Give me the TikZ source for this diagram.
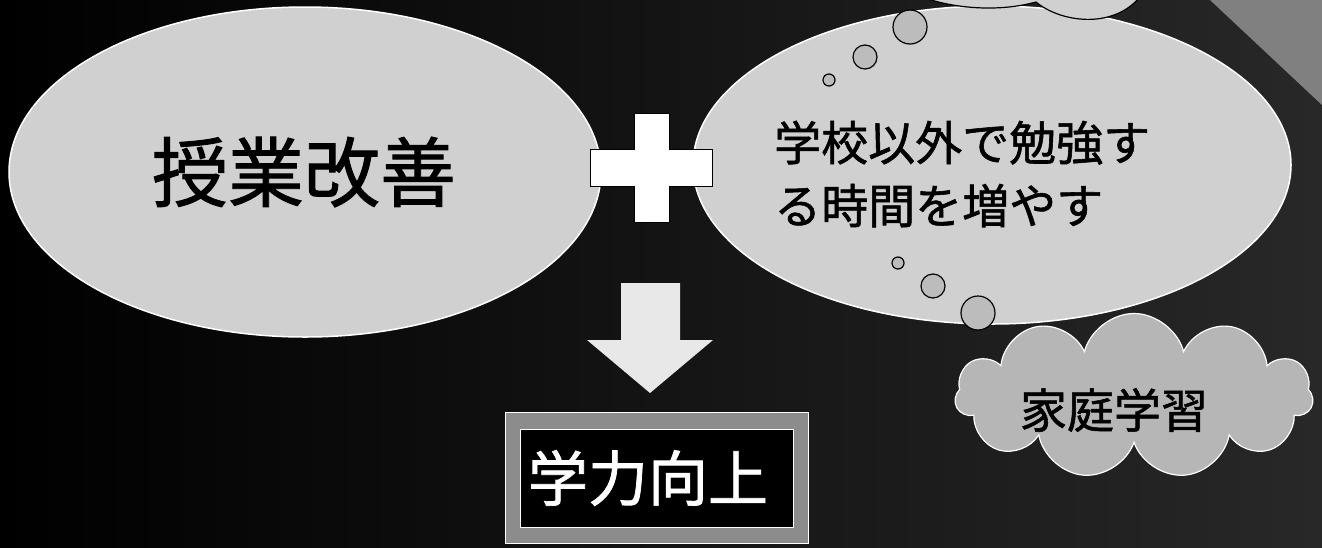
\documentclass[tikz,border=0pt]{standalone}
\usepackage{fontspec}
\newfontfamily\cjk[FakeBold=1.2]{Noto Sans CJK JP}
\usetikzlibrary{shapes.geometric,shapes.symbols}
\definecolor{ellgray}{RGB}{208,208,208}
\definecolor{cloudgray}{RGB}{182,182,182}
\definecolor{circgray}{RGB}{188,188,188}
\definecolor{arrowgray}{RGB}{232,232,232}
\definecolor{framegray}{RGB}{140,140,140}
\definecolor{cornergray}{RGB}{128,128,128}
\definecolor{bgright}{RGB}{40,40,40}
\begin{document}
\begin{tikzpicture}[x=1pt,y=-1pt,
  bigoval/.style={ellipse, fill=ellgray, draw=white, line width=1.5pt, inner sep=0pt},
  puffcloud/.style={cloud, cloud puffs=11, cloud ignores aspect, inner sep=0pt},
  thought/.style={circle, fill=circgray, draw=black, line width=1.2pt, inner sep=0pt},
  label/.style={font=\cjk, inner sep=0pt}]
\useasboundingbox (0,0) rectangle (1322,547);
\shade[left color=black, right color=bgright] (0,0) rectangle (1322,547);
\fill[cornergray] (1210,0) -- (1322,0) -- (1322,105) -- cycle;

% ovals
\node[bigoval, minimum width=592pt, minimum height=330pt] (lefto) at (305,172) {};
\node[bigoval, minimum width=598pt, minimum height=318pt] (righto) at (992,165) {};

% top cloud (only its lower edge shows)
\filldraw[fill=ellgray, draw=black, line width=1.2pt]
  (922,-3) .. controls (955,9) and (1000,12) .. (1036,2)
  .. controls (1060,22) and (1112,30) .. (1140,-3) -- cycle;

% thought bubbles
\node[thought, minimum size=12pt] (t1) at (829,80) {};
\node[thought, minimum size=24pt] (t2) at (865,57) {};
\node[thought, minimum size=34pt] (t3) at (910,27) {};
\node[thought, minimum size=12pt] (b1) at (898,263) {};
\node[thought, minimum size=24pt] (b2) at (933,286) {};
\node[thought, minimum size=34pt] (b3) at (978,313) {};

% home study cloud
\node[puffcloud, fill=cloudgray, draw=white, line width=1.2pt,
      minimum width=358pt, minimum height=165pt] (homecloud) at (1134,396) {};

% plus sign
\filldraw[fill=white, draw=black, line width=1pt]
  (590,149) -- (634,149) -- (634,113) -- (669,113) -- (669,149) -- (712,149)
  -- (712,186) -- (669,186) -- (669,222) -- (634,222) -- (634,186) -- (590,186) -- cycle;

% down arrow
\fill[arrowgray]
  (621,283) -- (680,283) -- (680,340) -- (713,340) -- (650,393) -- (587,340) -- (621,340) -- cycle;

% result box
\node[draw=white, fill=framegray, line width=1pt, minimum width=303pt, minimum height=131pt, inner sep=0pt] (frame) at (656.5,477.5) {};
\node[draw=white, fill=black, line width=1pt, minimum width=273pt, minimum height=98pt, inner sep=0pt] (inner) at (656.5,478) {};

% texts
\node[label, font=\cjk\fontsize{76}{80}\selectfont] (t_left) at (304,172) {授業改善};
\node[label, anchor=west, align=left, font=\cjk\fontsize{47}{63}\selectfont] (t_right) at (774,174) {学校以外で勉強す\\る時間を増やす};
\node[label, font=\cjk\fontsize{47}{50}\selectfont] (t_home) at (1114,410) {家庭学習};
\node[label, text=white, font=\cjk\fontsize{60}{64}\selectfont] (t_result) at (648,478) {学力向上};
\end{tikzpicture}
\end{document}
